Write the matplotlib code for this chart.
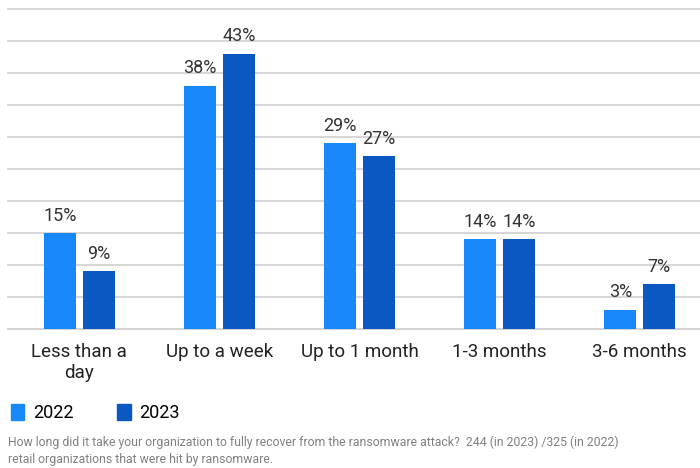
import matplotlib.pyplot as plt
import matplotlib.patches as mpatches
import numpy as np

plt.rcParams['font.family'] = ['Roboto', 'DejaVu Sans']

kategori = ["Less than a\nday", "Up to a week", "Up to 1 month", "1-3 months", "3-6 months"]
nilai_2022 = [15, 38, 29, 14, 3]
nilai_2023 = [9, 43, 27, 14, 7]
tahun = ["2022", "2023"]

warna_2022 = "#1787f9"
warna_2023 = "#0b58c2"

fig = plt.figure(figsize=(7, 4.68), dpi=100)
ax = fig.add_axes([0.011, 0.297, 0.989, 0.684])

x = np.arange(len(kategori))
lebar = 0.229
geser = 0.139

b1 = ax.bar(x - geser, nilai_2022, lebar, color=warna_2022, zorder=3)
b2 = ax.bar(x + geser, nilai_2023, lebar, color=warna_2023, zorder=3)

for bars in (b1, b2):
    for b in bars:
        ax.text(b.get_x() + b.get_width() / 2, b.get_height() + 1.3,
                f"{int(b.get_height())}%", ha="center", va="bottom",
                fontsize=13, color="#333333")

ax.set_ylim(0, 50)
ax.set_xlim(-0.51, 4.43)
ax.set_yticks(np.arange(0, 51, 5))
ax.yaxis.grid(True, color="#d3d3d3", linewidth=1.3, zorder=0)
for gl in ax.get_ygridlines():
    gl.set_clip_on(False)
ax.tick_params(axis="y", left=False, labelleft=False)
ax.tick_params(axis="x", length=0, pad=10)
ax.set_xticks(x)
ax.set_xticklabels(kategori, fontsize=13.5, color="#222222", linespacing=1.2)
for s in ["top", "right", "left"]:
    ax.spines[s].set_visible(False)
ax.spines["bottom"].set_color("#d3d3d3")
ax.spines["bottom"].set_linewidth(1.3)

handles = [mpatches.Patch(color=warna_2022), mpatches.Patch(color=warna_2023)]
fig.legend(handles, tahun, loc="upper left", bbox_to_anchor=(0.01, 0.145),
           ncol=2, frameon=False, fontsize=13, handlelength=0.75,
           handleheight=1.05, handletextpad=0.5, columnspacing=2.4,
           borderaxespad=0, borderpad=0.2)

fig.text(0.011, 0.005,
         "How long did it take your organization to fully recover from the ransomware attack?  244 (in 2023) /325 (in 2022)\nretail organizations that were hit by ransomware.",
         fontsize=8.8, color="#808080", va="bottom", linespacing=1.35)

fig.savefig("out.png", dpi=100)
